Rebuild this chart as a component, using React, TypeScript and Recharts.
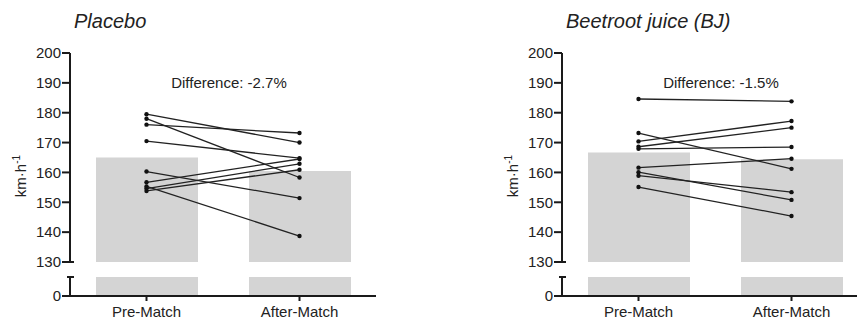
import React from "react";
import { ComposedChart, Bar, Line, XAxis, YAxis } from "recharts";

const categories = ["Pre-Match", "After-Match"];

const placeboPre = [179.5, 178, 176, 170.5, 160.3, 156.7, 155.3, 154.6, 153.8];
const placeboAfter = [170.0, 158.3, 173.2, 164.8, 151.4, 164.5, 138.7, 162.9, 160.9];
const placeboMean = [165, 160.5];

const bjPre = [184.6, 173.2, 170.4, 168.6, 167.9, 161.6, 160.1, 158.9, 155.1];
const bjAfter = [183.8, 161.2, 177.2, 175.0, 168.5, 164.6, 150.8, 153.4, 145.4];
const bjMean = [166.7, 164.4];

const upperTicks = [130, 140, 150, 160, 170, 180, 190, 200];

const FONT = '"Liberation Sans", Arial, sans-serif';
const AX = "#1a1a1a";
const BAR = "#d4d4d4";

function buildRows(pre: number[], after: number[], mean: number[]) {
  return categories.map((name, i) => {
    const row: Record<string, any> = { name, mean: mean[i] };
    const src = i === 0 ? pre : after;
    src.forEach((v, k) => (row["s" + k] = v));
    return row;
  });
}

const UpperTick = ({ x, y, payload }: any) => (
  <g>
    <line x1={x - 8} x2={payload.value === 130 ? x + 4 : x} y1={y} y2={y} stroke={AX} strokeWidth={2} />
    <text x={x - 9} y={y} dy="0.355em" textAnchor="end" fontSize={15} fill="#222" fontFamily={FONT}>
      {payload.value}
    </text>
  </g>
);

const LowerTick = ({ x, y, payload }: any) =>
  payload.value === 0 ? (
    <g>
      <line x1={x - 8} x2={x} y1={y} y2={y} stroke={AX} strokeWidth={2} />
      <text x={x - 9} y={y} dy="0.355em" textAnchor="end" fontSize={15} fill="#222" fontFamily={FONT}>
        0
      </text>
    </g>
  ) : (
    <line x1={x - 3} x2={x + 4} y1={y} y2={y} stroke={AX} strokeWidth={2} />
  );

function Panel({
  left,
  axisW,
  title,
  diff,
  pre,
  after,
  mean,
}: {
  left: number;
  axisW: number;
  title: string;
  diff: string;
  pre: number[];
  after: number[];
  mean: number[];
}) {
  const rows = buildRows(pre, after, mean);
  const plotW = 306;
  const width = axisW + plotW + 10;
  const axisX = left + axisW;
  return (
    <>
      <div
        style={{
          position: "absolute",
          left: title === "Placebo" ? 74 : left + 139,
          top: 10,
          fontSize: 20,
          fontStyle: "italic",
          fontFamily: FONT,
          color: "#222",
          whiteSpace: "nowrap",
        }}
      >
        {title}
      </div>
      <div
        style={{
          position: "absolute",
          left: axisX + plotW / 2 + 6,
          top: 82,
          transform: "translate(-50%, -50%)",
          fontSize: 15,
          fontFamily: FONT,
          color: "#222",
          whiteSpace: "nowrap",
        }}
      >
        {diff}
      </div>
      <div
        style={{
          position: "absolute",
          left: axisX - 50,
          top: 176,
          transform: "translate(-50%, -50%) rotate(-90deg)",
          fontSize: 15,
          fontFamily: FONT,
          color: "#222",
          whiteSpace: "nowrap",
        }}
      >
        km·h<sup style={{ fontSize: 10 }}>-1</sup>
      </div>
      <div style={{ position: "absolute", left, top: 0 }}>
        <ComposedChart width={width} height={272} data={rows} margin={{ top: 53, right: 10, bottom: 10, left: 0 }}>
          <XAxis dataKey="name" hide height={0} />
          <YAxis
            domain={[130, 200]}
            ticks={upperTicks}
            allowDataOverflow
            width={axisW}
            axisLine={{ stroke: AX, strokeWidth: 2 }}
            tickLine={false}
            tickSize={0}
            tickMargin={0}
            tick={<UpperTick />}
            interval={0}
          />
          <Bar dataKey="mean" fill={BAR} barSize={102} isAnimationActive={false} />
          {pre.map((_, k) => (
            <Line
              key={k}
              dataKey={"s" + k}
              stroke="#222"
              strokeWidth={1.3}
              dot={{ r: 2.2, fill: "#111", stroke: "#111", strokeWidth: 0 }}
              activeDot={false}
              isAnimationActive={false}
            />
          ))}
        </ComposedChart>
      </div>
      <div style={{ position: "absolute", left, top: 267 }}>
        <ComposedChart width={width} height={53} data={rows} margin={{ top: 10, right: 10, bottom: 0, left: 0 }}>
          <XAxis
            dataKey="name"
            height={24}
            axisLine={{ stroke: AX, strokeWidth: 2 }}
            tickLine={{ stroke: AX, strokeWidth: 2 }}
            tickSize={5}
            tickMargin={5}
            tick={{ fontSize: 15, fill: "#222", fontFamily: FONT }}
            interval={0}
          />
          <YAxis
            domain={[0, 1]}
            ticks={[0, 1]}
            allowDataOverflow
            width={axisW}
            axisLine={{ stroke: AX, strokeWidth: 2 }}
            tickLine={false}
            tickSize={0}
            tickMargin={0}
            tick={<LowerTick />}
            interval={0}
          />
          <Bar dataKey="mean" fill={BAR} barSize={102} isAnimationActive={false} />
        </ComposedChart>
      </div>
    </>
  );
}

export default function App() {
  return (
    <div
      style={{
        position: "absolute",
        left: 0,
        top: 0,
        width: 857,
        height: 320,
        overflow: "hidden",
        background: "#fff",
      }}
    >
      <Panel left={0} axisW={70} title="Placebo" diff="Difference: -2.7%" pre={placeboPre} after={placeboAfter} mean={placeboMean} />
      <Panel left={427} axisW={135} title="Beetroot juice (BJ)" diff="Difference: -1.5%" pre={bjPre} after={bjAfter} mean={bjMean} />
    </div>
  );
}
